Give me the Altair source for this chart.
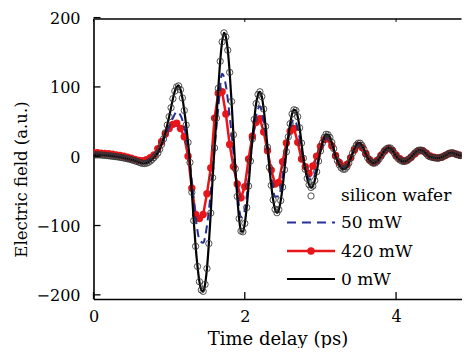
import altair as alt
import pandas as pd

# ---------------- data ----------------
time_fine = [round(i * 0.025, 3) for i in range(200)]     # ps
time_coarse = [round(i * 0.05, 2) for i in range(100)]    # ps

silicon_wafer = [
    2, 2, 2, 2, 1.8, 1.5, 1.3, 1, 0.7, 0.4,
    0, -0.3, -0.7, -1, -1.5, -2, -2.5, -3, -3.6, -4.3,
    -5, -5.8, -6.7, -7.6, -8.6, -9.6, -10.3, -10.5, -10, -8.8,
    -7, -4.6, -1.8, 1.2, 4.5, 10, 17, 25, 34, 45,
    57, 70, 83, 94, 100, 101.5, 96, 84, 66, 45,
    20, -9, -52, -93, -130, -159, -181, -193, -195, -185,
    -162, -126, -82, -31, 12, 55, 98, 137, 165, 178,
    172, 153, 121, 79, 31, -18, -58, -90, -108, -109,
    -97, -74, -43, -7, 25, 53, 76, 89, 93, 86,
    68, 43, 13, -16, -42, -63, -76.5, -81.5, -77, -64,
    -44.5, -19.5, 6.4, 28, 47, 61, 67, 66, 57, 41,
    19, -3, -19, -32, -41, -45, -43, -35, -22.5, -7,
    7.5, 19, 27, 31.6, 31, 27, 20, 11, 0, -6.6,
    -12.4, -16.7, -18.8, -18.6, -15.4, -9.9, -3, 4.4, 11, 16,
    18.8, 18.8, 15.4, 10, 3, -2.4, -6, -8.7, -10, -9.8,
    -7.4, -4, 0, 4.4, 8.2, 10.8, 12, 11.8, 8.8, 4.8,
    0, -2.9, -5.3, -6.9, -7.5, -7.3, -5.7, -3.6, -1.1, 1.9,
    4.9, 7.2, 8.6, 9, 8.2, 6.4, 3.7, 0.5, -0.8, -1.5,
    -2.2, -2.5, -2.6, -2.4, -1.6, -0.5, 1, 2.6, 4.2, 5,
    4.7, 3.8, 2.6, 1.6, 1, 0.8, 1, 1.5, 2, 2.3,
]

zero_mw = [
    2, 2, 2, 2, 1.8, 1.5, 1.3, 1, 0.7, 0.4,
    0, -0.3, -0.7, -1, -1.5, -2, -2.5, -3, -3.6, -4.3,
    -5, -5.8, -6.7, -7.6, -8.6, -9.6, -10.3, -10.5, -10, -8.8,
    -7, -4.6, -1.8, 1.2, 4.5, 10, 17, 25, 34, 45,
    57, 70, 83, 94, 100, 101.5, 96, 84, 66, 45,
    20, -9, -52, -93, -130, -159, -181, -193, -195, -185,
    -162, -126, -82, -31, 12, 55, 98, 137, 165, 178,
    172, 153, 121, 79, 31, -18, -58, -90, -108, -109,
    -97, -74, -43, -7, 25, 53, 76, 89, 93, 86,
    68, 43, 13, -16, -42, -63, -76.5, -81.5, -77, -64,
    -44.5, -19.5, 6.4, 28, 47, 61, 67, 66, 57, 41,
    19, -3, -19, -32, -41, -45, -43, -35, -22.5, -7,
    7.5, 19, 27, 31.6, 31, 27, 20, 11, 0, -6.6,
    -12.4, -16.7, -18.8, -18.6, -15.4, -9.9, -3, 4.4, 11, 16,
    18.8, 18.8, 15.4, 10, 3, -2.4, -6, -8.7, -10, -9.8,
    -7.4, -4, 0, 4.4, 8.2, 10.8, 12, 11.8, 8.8, 4.8,
    0, -2.9, -5.3, -6.9, -7.5, -7.3, -5.7, -3.6, -1.1, 1.9,
    4.9, 7.2, 8.6, 9, 8.2, 6.4, 3.7, 0.5, -0.8, -1.5,
    -2.2, -2.5, -2.6, -2.4, -1.6, -0.5, 1, 2.6, 4.2, 5,
    4.7, 3.8, 2.6, 1.6, 1, 0.8, 1, 1.5, 2, 2.3,
]

mw_50 = [
    3, 3, 3, 2.5, 2, 1.5, 1, 0, -1, -2.5,
    -4, -5.5, -7.5, -8.5, -8, -5, 0, 7, 17, 29,
    42, 55, 64, 59, 42, 12, -36, -88, -120, -125,
    -100, -52, 10, 70, 119, 102, 58, 6, -48, -88,
    -78, -32, 20, 58, 72, 50, 12, -30, -58, -58,
    -28, 10, 40, 53, 40, 10, -16, -33, -34, -14,
    7, 22, 28, 18, 1, -11, -17, -14, -3, 10,
    17, 14, 3, -6, -9.5, -7, 0, 8, 11.5, 8.5,
    0, -5, -7, -5.5, -1, 4.5, 8.5, 8, 3.5, -0.8,
    -2.2, -2.6, -1.6, 1, 4.2, 4.7, 2.6, 1, 1, 2,
]

mw_420 = [
    5, 5, 4.5, 4, 3.5, 3, 2, 1, 0, -1.5,
    -3, -4.5, -6, -6.5, -5, -2, 2, 11, 21, 32,
    40, 46, 47.5, 40, 28, 0, -46, -84, -90, -84,
    -54, -17, 55, 91, 93, 61, 17, -15, -40, -60,
    -44, -4, 29, 49, 54, 35, 8, -20, -40, -38,
    -8, 19, 36, 40, 20, -4, -15, -25, -14, 0,
    14, 24, 25, 15, 1, -9, -14.5, -12, -2, 9,
    16, 12.5, 4, -5, -9, -6, 1, 7.5, 11, 8.5,
    1.5, -3.5, -6.5, -5.5, -1.5, 3.5, 7.5, 8, 4.5, 0.5,
    -1.5, -2.5, -1.5, 1, 3.5, 4.5, 3, 1.5, 1.5, 2.5,
]

x_tick_values = [0, 2, 4]
y_tick_values = [-200, -100, 0, 100, 200]
y_tick_labels = ["\u2212200", "\u2212100", "0", "100", "200"]
legend_labels = ["silicon wafer", "50 mW", "420 mW", "0 mW"]

# ---------------- styling ----------------
FONT = "DejaVu Serif"
RED = "#e8151b"
BLUE = "#26309a"
W, H = 368, 280

fine = pd.DataFrame({"t": time_fine, "si": silicon_wafer, "mw0": zero_mw})
coarse = pd.DataFrame({"t": time_coarse, "mw50": mw_50, "mw420": mw_420})
yt = pd.DataFrame({"v": y_tick_values, "label": y_tick_labels})
xt = pd.DataFrame({"v": x_tick_values})
one = pd.DataFrame({"k": [0]})

xs = alt.Scale(domain=[0, 4.865], nice=False, zero=False)
ys = alt.Scale(domain=[-206, 198], nice=False, zero=False)
x_axis = alt.Axis(values=x_tick_values, ticks=False, grid=False, labelPadding=9,
                  labelFlush=False, title="Time delay (ps)", titlePadding=6,
                  titleFontSize=18)
y_axis = alt.Axis(labels=False, ticks=False, grid=False,
                  title="Electric field (a.u.)", titlePadding=64,
                  titleFontSize=16.5, titleY=160)


def X(f):
    return alt.X(f, type="quantitative", scale=xs, axis=x_axis)


def Y(f):
    return alt.Y(f, type="quantitative", scale=ys, axis=y_axis)


red_line = alt.Chart(coarse).mark_line(color=RED, strokeWidth=2.5, clip=True).encode(
    x=X("t"), y=Y("mw420"))
red_dots = alt.Chart(coarse).mark_circle(color=RED, size=55, opacity=1, clip=True).encode(
    x=X("t"), y=Y("mw420"))
blue_line = alt.Chart(coarse).mark_line(color=BLUE, strokeWidth=2, strokeDash=[8, 5],
                                        interpolate="monotone", clip=True).encode(
    x=X("t"), y=Y("mw50"))
black_line = alt.Chart(fine).mark_line(color="black", strokeWidth=2.2,
                                       interpolate="monotone", clip=True).encode(
    x=X("t"), y=Y("mw0"))
circles = alt.Chart(fine).mark_point(shape="circle", filled=False, size=40, color="#333333",
                                     strokeWidth=0.85, opacity=1, clip=True).encode(
    x=X("t"), y=Y("si"))

ytick = alt.Chart(yt).mark_rule(color="black", strokeWidth=1.3).encode(
    y=Y("v"), x=alt.value(0), x2=alt.value(7))
ylab = alt.Chart(yt).mark_text(align="right", baseline="middle", font=FONT, fontSize=16,
                               color="black", dy=1.5).encode(
    y=Y("v"), x=alt.value(-13), text="label:N")
xtick = alt.Chart(xt).mark_rule(color="black", strokeWidth=1.3).encode(
    x=X("v"), y=alt.value(H), y2=alt.value(H - 7))
xtick_top = alt.Chart(xt).mark_rule(color="black", strokeWidth=1).encode(
    x=X("v"), y=alt.value(0), y2=alt.value(3))
top_frame = alt.Chart(one).mark_rule(color="black", strokeWidth=1.6).encode(
    x=alt.value(0), x2=alt.value(W), y=alt.value(0))

# legend
leg_circle = alt.Chart(one).mark_point(shape="circle", filled=False, size=40, color="#333333",
                                       strokeWidth=0.85, opacity=1).encode(
    x=alt.value(217.5), y=alt.value(177))
leg_blue = alt.Chart(one).mark_rule(color=BLUE, strokeWidth=2, strokeDash=[9, 6]).encode(
    x=alt.value(193.5), x2=alt.value(241.5), y=alt.value(203.5))
leg_red = alt.Chart(one).mark_rule(color=RED, strokeWidth=2.5).encode(
    x=alt.value(193.5), x2=alt.value(241.5), y=alt.value(232))
leg_red_dot = alt.Chart(one).mark_circle(color=RED, size=55, opacity=1).encode(
    x=alt.value(217.5), y=alt.value(232))
leg_black = alt.Chart(one).mark_rule(color="black", strokeWidth=2.2).encode(
    x=alt.value(193.5), x2=alt.value(241.5), y=alt.value(260))

leg_texts = []
for lab, yy in zip(legend_labels, [177, 204, 233, 261]):
    leg_texts.append(
        alt.Chart(one).mark_text(text=lab, align="left", baseline="middle", font=FONT,
                                 fontSize=17, color="black").encode(
            x=alt.value(247.5), y=alt.value(yy)))

chart = alt.layer(
    red_line, red_dots, blue_line, black_line, circles,
    ytick, ylab, xtick, xtick_top, top_frame,
    leg_circle, leg_blue, leg_red, leg_red_dot, leg_black, *leg_texts,
).properties(
    width=W, height=H,
    padding={"left": 85.5, "top": 11, "right": 0, "bottom": 49},
    autosize=alt.AutoSizeParams(type="none"),
).configure_view(stroke=None).configure_axis(
    labelFont=FONT, labelFontSize=16, labelColor="black",
    titleFont=FONT, titleFontSize=18, titleFontWeight="normal", titleColor="black",
    domainColor="black", domainWidth=1.6,
)

chart.save("out.html", embed_options={"renderer": "svg", "actions": False})
